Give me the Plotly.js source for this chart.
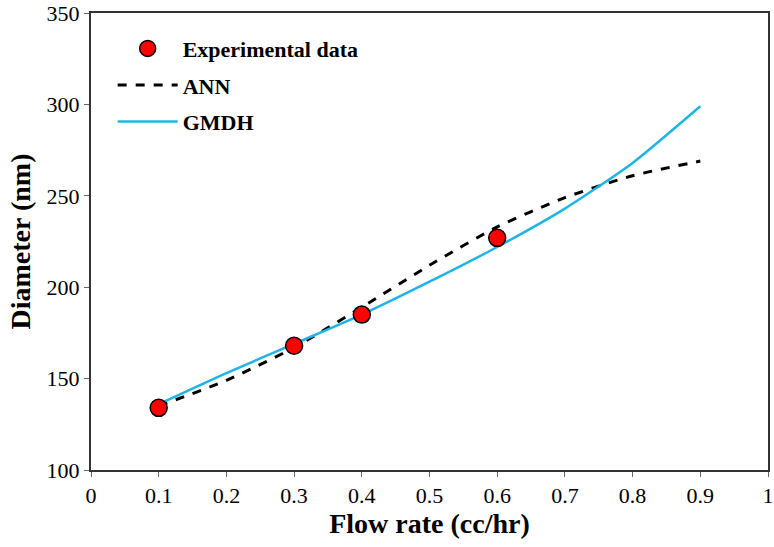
<!DOCTYPE html>
<html>
<head>
<meta charset="utf-8">
<script src="https://cdn.plot.ly/plotly-3.0.1.min.js"></script>
<style>
  html, body { margin: 0; padding: 0; background: #fff; }
  #chart { width: 774px; height: 547px; }
</style>
</head>
<body>
<div id="chart"></div>
<script>
// flow rate (cc/hr) vs fibre diameter (nm)
const expFlow = [0.1, 0.3, 0.4, 0.6];
const expDiameter = [134, 168, 185, 227];

const modelFlow = [0.1, 0.2, 0.3, 0.4, 0.5, 0.6, 0.7, 0.8, 0.9];
const annDiameter = [135, 149, 167, 189, 212, 233, 249, 261, 269];
const gmdhDiameter = [136, 153, 169, 185, 203, 222, 243, 268, 299];

const serif = 'Liberation Serif, Times New Roman, serif';

const expTrace = {
  x: expFlow, y: expDiameter,
  type: 'scatter', mode: 'markers',
  name: 'Experimental data',
  legendgroup: 'a', legendrank: 1,
  marker: { color: '#ff0000', size: 17, line: { color: '#000', width: 1.5 } }
};
const annTrace = {
  x: modelFlow, y: annDiameter,
  type: 'scatter', mode: 'lines',
  name: 'ANN',
  legendgroup: 'b', legendrank: 2,
  line: { color: '#000', width: 3, dash: 'dash', shape: 'spline', smoothing: 0.6 }
};
const gmdhTrace = {
  x: modelFlow, y: gmdhDiameter,
  type: 'scatter', mode: 'lines',
  name: 'GMDH',
  legendgroup: 'c', legendrank: 3,
  line: { color: '#1fb4e6', width: 2.5, shape: 'spline', smoothing: 0.6 }
};

const layout = {
  width: 774,
  height: 547,
  margin: { l: 91, r: 6, t: 13, b: 77 },
  paper_bgcolor: '#fff',
  plot_bgcolor: '#fff',
  showlegend: true,
  legend: {
    x: 0.032, y: 0.968, xanchor: 'left', yanchor: 'top',
    traceorder: 'grouped',
    tracegroupgap: 5,
    itemwidth: 60,
    font: { family: serif, size: 22, color: '#000', weight: 'bold' },
    bgcolor: 'rgba(0,0,0,0)'
  },
  xaxis: {
    range: [0, 1],
    dtick: 0.1,
    tick0: 0,
    ticks: 'outside',
    ticklen: 5,
    tickcolor: '#666',
    showgrid: false,
    zeroline: false,
    showline: true,
    linecolor: '#333',
    linewidth: 2,
    mirror: true,
    ticklabeloverflow: 'allow',
    tickfont: { family: serif, size: 22, color: '#000' },
    title: { text: '<b>Flow rate (cc/hr)</b>', font: { family: serif, size: 28, color: '#000' }, standoff: 6 }
  },
  yaxis: {
    range: [100, 350],
    dtick: 50,
    ticks: 'outside',
    ticklen: 5,
    tickcolor: '#666',
    showgrid: false,
    zeroline: false,
    showline: true,
    linecolor: '#333',
    linewidth: 2,
    mirror: true,
    ticklabeloverflow: 'allow',
    tickfont: { family: serif, size: 22, color: '#000' },
    title: { text: '<b>Diameter (nm)</b>', font: { family: serif, size: 28, color: '#000' }, standoff: 8 }
  }
};

// lines first so the markers sit on top
Plotly.newPlot('chart', [annTrace, gmdhTrace, expTrace], layout, { displayModeBar: false, staticPlot: true });
</script>
</body>
</html>
